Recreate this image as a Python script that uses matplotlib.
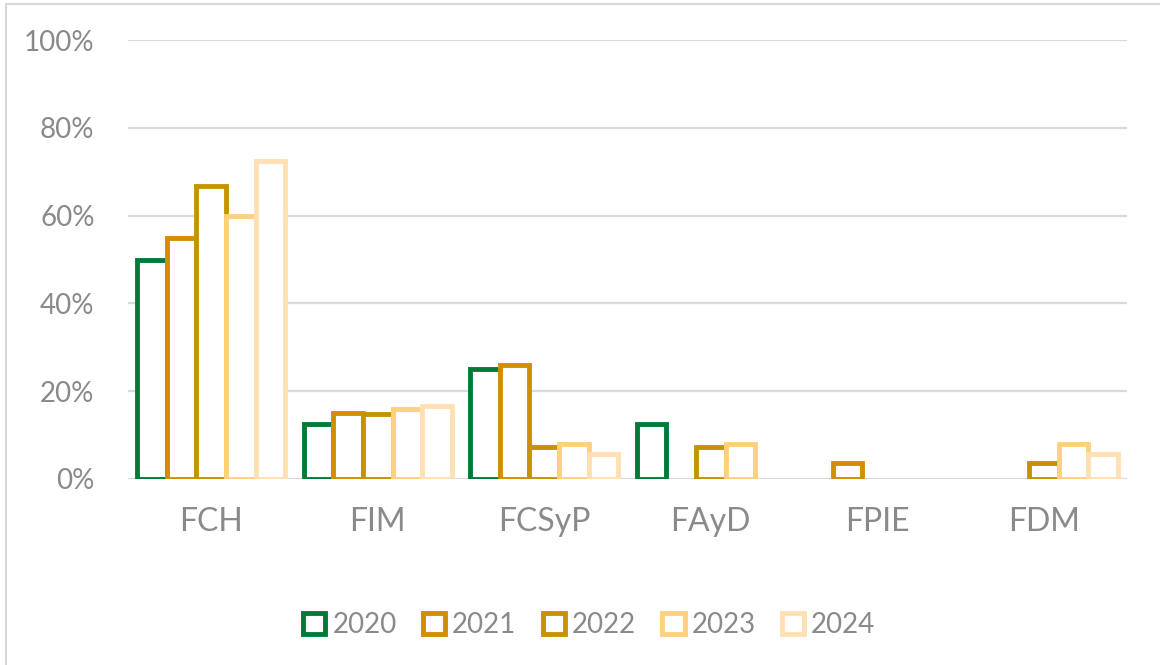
import numpy as np
import matplotlib
matplotlib.use('Agg')
import matplotlib.pyplot as plt
from matplotlib.patches import Patch
from matplotlib.lines import Line2D

plt.rcParams['font.family'] = ['Lato', 'DejaVu Sans']

categories = ['FCH', 'FIM', 'FCSyP', 'FAyD', 'FPIE', 'FDM']
years = ['2020', '2021', '2022', '2023', '2024']
v2020 = [50.0, 12.5, 25.0, 12.5, 0.0, 0.0]
v2021 = [55.0, 15.0, 26.0, 0.0, 3.7, 0.0]
v2022 = [66.7, 14.8, 7.4, 7.4, 0.0, 3.7]
v2023 = [60.0, 16.0, 8.0, 8.0, 0.0, 8.0]
v2024 = [72.4, 16.7, 5.6, 0.0, 0.0, 5.6]
colors = ['#007A37', '#D18F00', '#C49400', '#FFD07E', '#FFE0B2']

series = [v2020, v2021, v2022, v2023, v2024]
text_grey = '#8A8A8A'
grid_grey = '#D9D9D9'

fig = plt.figure(figsize=(11.6, 6.65), dpi=100)
ax = fig.add_axes([0.1103, 0.2797, 0.8613, 0.6601])

x = np.arange(len(categories))
w = 0.178
for i, (vals, c) in enumerate(zip(series, colors)):
    vals = np.array(vals)
    pos = x + (i - 2) * w
    keep = vals > 0
    ax.bar(pos[keep], vals[keep], width=w, facecolor='white', edgecolor=c,
           linewidth=3.5, zorder=3 + i * 0.01)

ax.set_xlim(-0.5, len(categories) - 0.5)
ax.set_ylim(0, 100)
ax.set_yticks(np.arange(0, 101, 20))
ax.set_yticklabels([f'{v}%' for v in range(0, 101, 20)])
ax.set_xticks(x)
ax.set_xticklabels(categories)
ax.yaxis.grid(True, color=grid_grey, linewidth=1.6, zorder=0)
ax.set_axisbelow(True)
for s in ax.spines.values():
    s.set_visible(False)
ax.tick_params(axis='both', length=0, colors=text_grey, labelsize=20)
ax.tick_params(axis='x', pad=20, labelsize=23)
ax.tick_params(axis='y', pad=24)

handles = [Patch(facecolor='white', edgecolor=c, linewidth=3.5, label=y)
           for y, c in zip(years, colors)]
leg = fig.legend(handles=handles, loc='center', bbox_to_anchor=(0.508, 0.06),
                 ncol=5, frameon=False, fontsize=20, handlelength=0.8,
                 handleheight=0.8, handletextpad=0.25, columnspacing=0.95)
for t in leg.get_texts():
    t.set_color(text_grey)

# light frame of the chart area (left and top edges)
fig.add_artist(Line2D([0.0055, 0.0055], [0, 0.994], transform=fig.transFigure,
                      color=grid_grey, linewidth=1.5))
fig.add_artist(Line2D([0.0055, 1.0], [0.994, 0.994], transform=fig.transFigure,
                      color=grid_grey, linewidth=1.5))

fig.savefig('out.png', dpi=100, facecolor='white')
